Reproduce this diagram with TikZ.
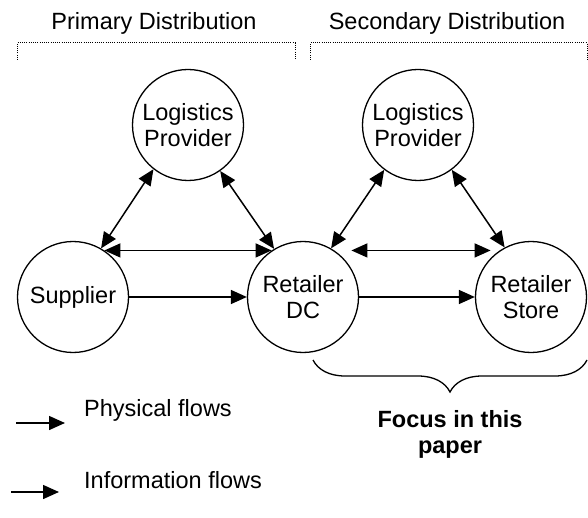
\documentclass[tikz,border=0pt]{standalone}
\usepackage{fontspec}
\setmainfont{Liberation Sans}
\usetikzlibrary{arrows.meta,decorations.pathreplacing}

\begin{document}
\begin{tikzpicture}[x=1pt,y=-1pt,
  actor/.style={circle,draw,line width=1.3pt,minimum size=111pt,inner sep=0pt,
    align=center,font=\fontsize{23.5}{26}\selectfont},
  twoline/.style={execute at begin node={\rule{0pt}{27pt}}},
  flow/.style={line width=1.5pt,-{Triangle[length=16pt,width=14pt]}},
  twoway/.style={line width=1.5pt,
    {Triangle[length=16pt,width=14pt]}-{Triangle[length=16pt,width=14pt]}},
  txt/.style={font=\fontsize{23.5}{26}\selectfont,inner sep=0pt},
  scopeline/.style={line width=1pt,dash pattern=on 1pt off 1.2pt},
]
\useasboundingbox (0,0) rectangle (588,518);

% stage headings with their dotted brackets
\node[txt,anchor=base] (primary) at (154,30) {Primary Distribution};
\node[txt,anchor=base] (secondary) at (447,30) {Secondary Distribution};
\draw[scopeline] (17,60) |- (295,43) -- (295,60);
\draw[scopeline] (310,60) |- (587,43) -- (587,60);

% supply chain actors
\node[actor,twoline] (lp1) at (188,125) {Logistics\\Provider};
\node[actor,twoline] (lp2) at (418,125) {Logistics\\Provider};
\node[actor] (sup) at (73,297) {Supplier};
\node[actor,twoline] (dc) at (303,297) {Retailer\\DC};
\node[actor,twoline] (store) at (531,297) {Retailer\\Store};

% primary distribution flows
\draw[twoway] (lp1.232) -- (sup.60);
\draw[twoway] (lp1.305) -- (dc.121);
\draw[twoway] (sup.56) -- (dc.124);
\draw[flow] (sup) -- (dc);

% secondary distribution flows
\draw[twoway] (lp2.233) -- (dc.60);
\draw[twoway] (lp2.307) -- (store.118);
\draw[twoway,shorten <=17pt,shorten >=9pt] (dc.56) -- (store.124);
\draw[flow] (dc) -- (store);

% legend
\coordinate (physA) at (16,423);
\coordinate (physB) at (65,423);
\draw[flow] (physA) -- (physB);
\node[txt,anchor=base west] (physlbl) at (84,416) {Physical flows};
\coordinate (infoA) at (11,492);
\coordinate (infoB) at (59,492);
\draw[flow] (infoA) -- (infoB);
\node[txt,anchor=base west] (infolbl) at (84,488) {Information flows};

% scope of the paper
\coordinate (focusR) at (587,360);
\coordinate (focusL) at (313,360);
\draw[line width=1.3pt,decorate,decoration={brace,amplitude=32pt}] (focusR) -- (focusL);
\node[txt,align=center,font=\fontsize{23.5}{26}\selectfont\bfseries] (focus) at (450,434)
  {Focus in this\\paper};
\end{tikzpicture}
\end{document}
